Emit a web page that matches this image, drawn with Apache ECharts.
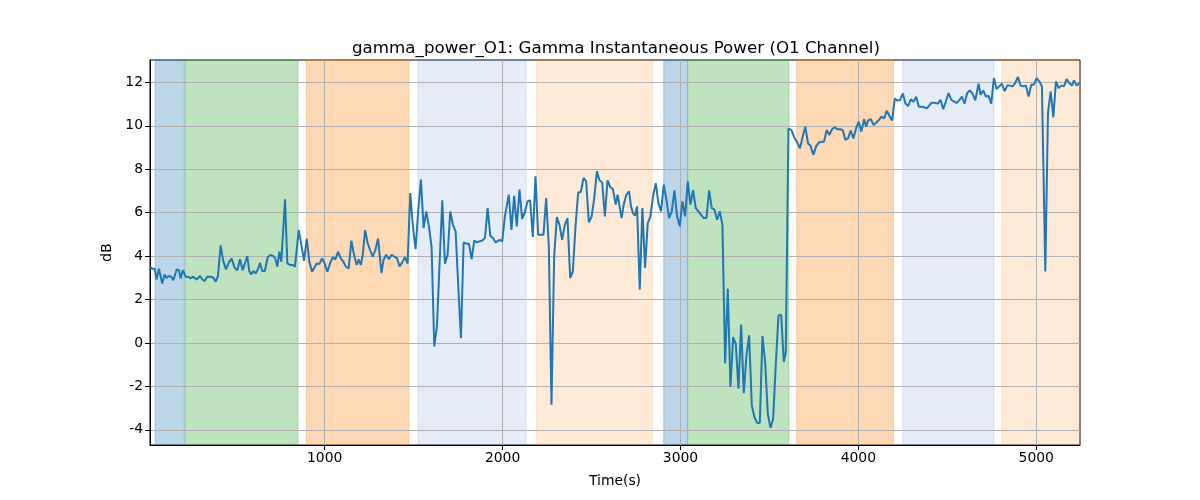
<!DOCTYPE html>
<html>
<head>
<meta charset="utf-8">
<script src="https://cdn.jsdelivr.net/npm/echarts@6/dist/echarts.min.js"></script>
<style>html,body{margin:0;padding:0;background:#fff}#c{width:1200px;height:500px}</style>
</head>
<body>
<div id="c"></div>
<script>
const times = [18,31,44,55,68,87,100,111,124,137,149,168,181,190,203,218,231,246,261,280,299,312,325,340,359,374,387,400,415,430,445,462,477,494,509,524,539,550,565,576,587,599,612,625,636,649,663,
670,681,696,711,722,734,745,756,777,790,805,820,833,843,854,869,884,899,914,929,940,955,970,985,1000,1015,1030,1045,1060,1075,1090,1105,1120,1135,1150,1165,1180,1191,1203,1214,1227,1242,1255,1270,1285,1300,
1319,1331,1346,1361,1376,1391,1406,1421,1436,1451,1466,1481,1496,1511,1526,1541,1556,1571,1586,1601,1616,1631,1646,1661,1676,1691,1706,1721,1736,1751,1766,1781,1796,1811,1826,1841,1856,1871,1886,1901,1916,1931,1946,1961,1972,
1983,1998,2013,2035,2050,2065,2080,2095,2110,2125,2140,2155,2170,2185,2200,2215,2230,2245,2260,2275,2290,2305,2320,2335,2350,2365,2380,2395,2410,2425,2440,2455,2470,2485,2500,2515,2530,2545,2560,2575,2590,2605,2620,
2636,2647,2658,2669,2681,2696,2711,2722,2733,2744,2756,2771,2786,2801,2816,2831,2846,2861,2876,2891,2906,2921,2936,2951,2966,2981,2996,3011,3026,3041,3056,3071,3086,3101,3116,3131,3146,3161,3176,3191,3206,3221,3236,
3251,3266,3281,3296,3311,3326,3341,3356,3371,3386,3401,3416,3431,3446,3461,3476,3491,3506,3521,3536,3551,3566,3581,3592,3607,
3623,3638,3654,3672,3687,3702,3717,3732,3747,3762,3777,3792,3807,3822,3837,3852,3867,3882,3897,3912,3927,3942,3957,3972,3987,4002,4017,4032,4044,4055,4070,4085,4100,4115,4130,4145,4160,4175,4190,4205,4220,4235,4250,4265,4280,4295,4310,4325,4340,4355,4370,4385,4396,4411,4426,
4447,4462,4477,4492,4507,4522,4537,4552,4567,4582,4597,4612,4627,4642,4657,4676,4687,4702,4717,4732,4747,4762,4777,4792,4807,4822,4837,4852,4867,4882,4897,4912,4927,4942,4957,4972,4987,5002,5017,5032,5051,5066,5081,5096,5111,5126,5141,5156,5171,5186,5201,5212,5227,5246];
const values = [3.51,3.42,3.42,2.92,3.42,2.74,3.15,2.99,3.08,3.05,2.89,3.38,3.35,2.97,3.35,3.05,3.05,2.97,3.05,2.92,3.08,2.92,2.85,3.05,3.05,3.0,2.82,3.08,4.49,3.77,3.39,3.72,3.88,3.46,3.35,3.85,3.35,3.42,4.0,3.31,3.15,3.31,3.2,3.39,3.69,3.31,3.31,
3.28,3.97,4.05,4.0,3.89,3.51,4.2,3.74,6.61,3.66,3.59,3.59,3.51,3.59,5.2,4.51,3.78,4.81,3.74,3.28,3.35,3.66,3.63,3.89,3.66,3.28,3.66,3.94,3.85,4.2,3.89,3.74,3.51,3.43,4.71,4.05,3.59,3.85,3.59,4.05,5.2,4.58,4.28,3.97,4.28,4.81,
3.22,3.83,4.06,3.86,4.06,3.98,3.91,3.52,3.71,3.95,3.65,6.9,5.37,4.32,6.14,7.52,5.29,6.06,5.37,4.41,-0.16,0.76,3.68,6.57,3.65,4.06,6.06,5.44,5.14,2.6,0.22,4.63,4.57,4.57,3.86,4.72,4.63,4.68,4.72,4.83,6.21,4.94,4.83,4.63,4.57,
4.75,4.68,5.83,6.83,5.21,6.78,5.37,7.06,5.71,6.01,6.52,6.57,4.88,7.67,4.98,4.98,4.98,6.67,4.45,-2.85,3.98,5.8,5.44,4.75,5.44,5.75,2.99,3.29,5.37,6.93,6.95,7.6,7.44,5.55,5.8,6.63,7.9,7.49,7.39,5.83,7.49,7.18,7.09,
6.37,6.83,6.29,5.75,6.37,6.83,6.98,6.29,5.98,5.86,6.29,2.45,6.21,3.45,5.52,5.83,6.75,7.36,6.44,6.06,7.29,6.6,5.75,6.06,7.03,5.83,5.37,6.52,5.83,7.44,6.37,7.03,6.21,6.06,5.9,5.75,5.75,7.03,6.21,6.14,5.67,6.06,5.44,
-0.93,2.5,-2.03,0.27,-0.04,-2.11,0.85,-2.31,-0.58,0.35,-2.88,-3.42,-3.68,-3.69,0.32,-0.88,-3.26,-3.91,-3.49,-0.96,1.27,1.3,-0.88,-0.42,9.87,
9.81,9.5,9.27,8.96,9.5,9.96,9.19,9.07,8.66,9.04,9.22,9.27,9.27,9.81,9.58,9.84,9.93,9.84,9.84,9.81,9.35,9.42,9.78,9.42,9.88,10.19,9.73,10.3,9.96,10.26,10.3,10.04,10.14,10.26,10.42,10.34,10.7,10.45,10.24,11.26,11.16,11.19,11.49,11.03,10.91,11.22,11.11,11.34,10.88,10.88,10.85,10.8,10.76,11.06,11.06,
11.02,11.2,10.77,11.12,11.51,11.2,11.12,11.05,11.17,11.35,11.02,11.51,11.63,11.48,11.17,11.94,11.43,11.63,11.35,11.38,11.02,12.2,11.69,11.82,11.94,11.59,11.85,11.85,11.82,11.97,12.25,11.85,11.82,11.85,11.35,11.89,11.89,12.2,12.05,11.82,3.29,10.59,11.59,10.4,12.05,11.74,11.85,11.82,12.15,11.97,11.85,12.09,11.85,12.0];

const spanStarts = [47, 215, 897, 1525, 2191, 2906, 3041, 3654, 4250, 4807];
const spanEnds   = [211, 850, 1473, 2133, 2842, 3039, 3609, 4198, 4762, 5246];
const spanKinds  = ['blue','green','orange','lightblue','lightorange','blue','green','orange','lightblue','lightorange'];

const xTicks = [1000, 2000, 3000, 4000, 5000];
const yTicks = [-4, -2, 0, 2, 4, 6, 8, 10, 12];

const titleText = 'gamma_power_O1: Gamma Instantaneous Power (O1 Channel)';
const xName = 'Time(s)';
const yName = 'dB';

const kindColor = {
  blue: 'rgba(31,119,180,0.3)',
  green: 'rgba(44,160,44,0.3)',
  orange: 'rgba(255,127,14,0.3)',
  lightblue: 'rgba(80,130,200,0.15)',
  lightorange: 'rgba(255,127,14,0.16)'
};

const lineData = times.map((t, i) => [t, values[i]]);
const areas = spanStarts.map((s, i) => [
  { xAxis: s, itemStyle: { color: kindColor[spanKinds[i]], borderColor: kindColor[spanKinds[i]], borderWidth: 1 } },
  { xAxis: spanEnds[i] }
]);

const font = 'DejaVu Sans';
const chart = echarts.init(document.getElementById('c'), null, { renderer: 'canvas' });
chart.setOption({
  animation: false,
  backgroundColor: '#fff',
  title: {
    text: titleText, left: 611, top: 35, textAlign: 'center',
    textStyle: { fontFamily: font, fontSize: 16.7, fontWeight: 'normal', color: '#000' }
  },
  grid: { left: 150, right: 120, top: 60, bottom: 55, show: true, borderColor: '#000', borderWidth: 1, backgroundColor: 'transparent' },
  xAxis: {
    type: 'value', min: 18, max: 5246, z: 2,
    name: xName, nameLocation: 'middle', nameGap: 29,
    nameTextStyle: { fontFamily: font, fontSize: 13.9, color: '#000' },
    axisLine: { show: true, onZero: false, lineStyle: { color: '#000', width: 1 } },
    axisTick: { show: true, length: 5, customValues: xTicks, lineStyle: { color: '#000' } },
    axisLabel: { customValues: xTicks, formatter: v => String(v), fontFamily: font, fontSize: 13.9, color: '#000', margin: 6 },
    splitLine: { show: true, lineStyle: { color: '#b0b0b0', width: 1 } }
  },
  yAxis: {
    type: 'value', min: -4.70, max: 13.03, z: 2,
    name: yName, nameLocation: 'middle', nameGap: 36, nameRotate: 90,
    nameTextStyle: { fontFamily: font, fontSize: 13.9, color: '#000' },
    axisLine: { show: true, onZero: false, lineStyle: { color: '#000', width: 1 } },
    axisTick: { show: true, length: 5, customValues: yTicks, lineStyle: { color: '#000' } },
    axisLabel: { customValues: yTicks, formatter: v => String(v), fontFamily: font, fontSize: 13.9, color: '#000', margin: 7 },
    splitLine: { show: true, lineStyle: { color: '#b0b0b0', width: 1 } }
  },
  series: [
    {
      type: 'line', z: 1, data: [], silent: true,
      markArea: { silent: true, data: areas }
    },
    {
      type: 'line', z: 3, data: lineData, showSymbol: false, symbol: 'none',
      lineStyle: { color: '#1f77b4', width: 2 }, itemStyle: { color: '#1f77b4' }
    }
  ]
});
</script>
</body>
</html>
